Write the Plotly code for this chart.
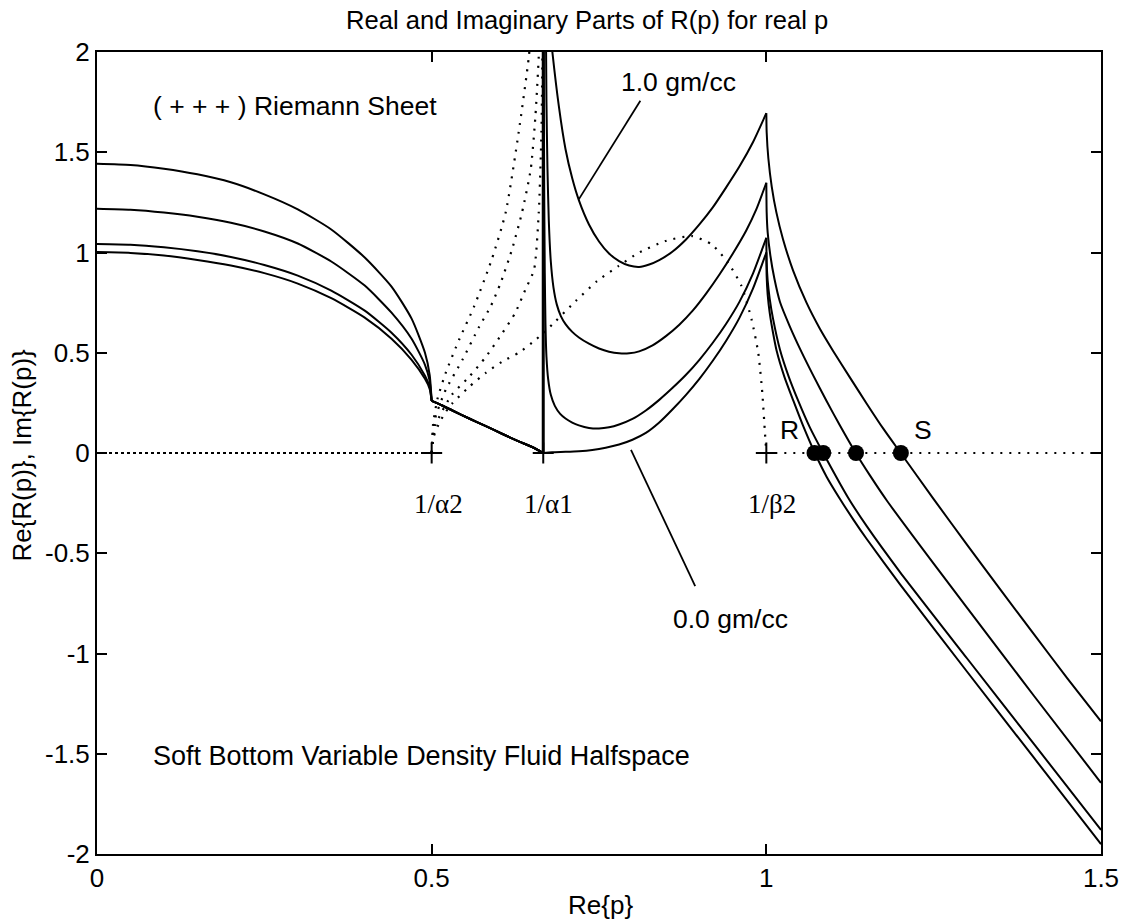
import plotly.graph_objects as go

# ---------------- values ----------------
# Real part of R(p) for four bottom densities (re1 = 1.0 gm/cc ... re4 = 0.0 gm/cc)
x_left = [0.0, 0.05, 0.1, 0.15, 0.2, 0.25, 0.3, 0.35, 0.4, 0.44, 0.47, 0.49, 0.497, 0.5]
re1_left = [1.443, 1.437, 1.418, 1.39, 1.35, 1.29, 1.215, 1.115, 0.975, 0.83, 0.67, 0.50, 0.39, 0.26]
re2_left = [1.218, 1.213, 1.199, 1.178, 1.148, 1.105, 1.045, 0.955, 0.835, 0.70, 0.57, 0.44, 0.36, 0.26]
re3_left = [1.043, 1.039, 1.026, 1.006, 0.978, 0.938, 0.885, 0.81, 0.71, 0.60, 0.49, 0.385, 0.33, 0.26]
re4_left = [1.002, 0.998, 0.985, 0.963, 0.935, 0.897, 0.845, 0.772, 0.675, 0.57, 0.465, 0.37, 0.32, 0.26]

# shared segment between 1/alpha2 and 1/alpha1
x_mid = [0.5, 0.515, 0.531, 0.556, 0.581, 0.605, 0.630, 0.650, 0.6667]
re_mid = [0.26, 0.238, 0.212, 0.172, 0.134, 0.096, 0.058, 0.03, 0.0]

# jump at 1/alpha1 (runs off the top of the frame)
x_jump = [0.6667, 0.6667]
re_jump = [0.0, 2.6]

# between 1/alpha1 and 1/beta2
re1_rx = [0.670, 0.675, 0.680, 0.690, 0.700, 0.710, 0.720, 0.735, 0.750, 0.765, 0.780, 0.795,
          0.810, 0.825, 0.840, 0.860, 0.880, 0.900, 0.920, 0.940, 0.960, 0.980, 1.0]
re1_ry = [2.40, 2.18, 2.01, 1.73, 1.515, 1.37, 1.26, 1.14, 1.055, 0.995, 0.957, 0.935,
          0.928, 0.94, 0.962, 1.005, 1.065, 1.14, 1.225, 1.325, 1.43, 1.55, 1.695]
re2_rx = [0.6705, 0.6715, 0.673, 0.675, 0.678, 0.682, 0.687, 0.693, 0.700, 0.710, 0.720, 0.735, 0.750,
          0.765, 0.780, 0.795, 0.810, 0.830, 0.850, 0.870, 0.890, 0.910, 0.930, 0.950, 0.970, 0.985, 1.0]
re2_ry = [2.20, 1.75, 1.42, 1.16, 0.955, 0.825, 0.74, 0.683, 0.643, 0.604, 0.576, 0.545, 0.521,
          0.505, 0.497, 0.497, 0.507, 0.537, 0.583, 0.64, 0.71, 0.795, 0.89, 0.995, 1.11, 1.215, 1.348]
re3_rx = [0.6672, 0.6675, 0.668, 0.669, 0.670, 0.6715, 0.674, 0.678, 0.684, 0.692, 0.700, 0.710, 0.720,
          0.735, 0.750, 0.765, 0.780, 0.800, 0.820, 0.840, 0.860, 0.880, 0.900, 0.920, 0.940, 0.960, 0.980, 1.0]
re3_ry = [2.5, 1.9, 1.4, 0.9, 0.65, 0.48, 0.37, 0.29, 0.235, 0.195, 0.172, 0.152, 0.138,
          0.125, 0.122, 0.128, 0.142, 0.17, 0.212, 0.265, 0.325, 0.39, 0.465, 0.55, 0.645, 0.755, 0.895, 1.073]
re4_rx = [0.6667, 0.680, 0.700, 0.720, 0.740, 0.760, 0.780, 0.800, 0.820, 0.840, 0.860, 0.880, 0.900,
          0.920, 0.940, 0.960, 0.980, 1.0]
re4_ry = [0.0, 0.004, 0.006, 0.009, 0.015, 0.026, 0.042, 0.066, 0.10, 0.152, 0.218, 0.29, 0.37,
          0.46, 0.56, 0.675, 0.82, 1.0]

# beyond 1/beta2
re1_tx = [1.0, 1.0005, 1.003, 1.008, 1.015, 1.025, 1.04, 1.06, 1.08, 1.10, 1.125, 1.15, 1.175, 1.2007,
          1.25, 1.30, 1.35, 1.40, 1.45, 1.5]
re1_ty = [1.695, 1.60, 1.47, 1.33, 1.20, 1.065, 0.91, 0.75, 0.62, 0.508, 0.376, 0.246, 0.12, 0.0,
          -0.23, -0.458, -0.683, -0.905, -1.125, -1.338]
re2_tx = [1.0, 1.0005, 1.002, 1.006, 1.012, 1.0204, 1.035, 1.0527, 1.07, 1.09, 1.11, 1.1336, 1.155, 1.18,
          1.25, 1.30, 1.40, 1.5]
re2_ty = [1.348, 1.20, 1.10, 0.985, 0.87, 0.753, 0.632, 0.503, 0.387, 0.259, 0.137, 0.0, -0.113, -0.237,
          -0.552, -0.772, -1.212, -1.645]
re3_tx = [1.0, 1.0005, 1.002, 1.005, 1.01, 1.0204, 1.033, 1.0477, 1.065, 1.085, 1.1222, 1.15, 1.2,
          1.3, 1.4, 1.5]
re3_ty = [1.073, 0.95, 0.86, 0.77, 0.67, 0.515, 0.385, 0.26, 0.128, 0.0, -0.223, -0.365, -0.595,
          -1.025, -1.452, -1.88]
re4_tx = [1.0, 1.0005, 1.002, 1.005, 1.01, 1.0154, 1.027, 1.0402, 1.055, 1.0725, 1.09, 1.1098, 1.13,
          1.15, 1.2, 1.3, 1.4, 1.5]
re4_ty = [1.0, 0.88, 0.79, 0.70, 0.60, 0.51, 0.38, 0.262, 0.135, 0.0, -0.118, -0.228, -0.332,
          -0.429, -0.656, -1.091, -1.521, -1.951]

# Imaginary parts (dotted)
im_flat_x = [0.0, 0.5]          # all four curves coincide on the axis here
im_flat_y = [0.0, 0.0]
im0_x = [0.5, 0.503, 0.51, 0.52, 0.531, 0.556, 0.581, 0.605, 0.63, 0.65, 0.6667, 0.685, 0.715,
         0.747, 0.779, 0.809, 0.849, 0.889, 0.9185, 0.943, 0.963, 0.978, 0.988, 0.994, 0.998, 1.0]
im0_y = [0.0, 0.08, 0.14, 0.2, 0.248, 0.33, 0.40, 0.455, 0.50, 0.55, 0.598, 0.657, 0.757,
         0.857, 0.932, 0.998, 1.057, 1.082, 1.04, 0.948, 0.832, 0.665, 0.498, 0.298, 0.098, 0.0]
im0_tail_x = [1.0, 1.5]
im0_tail_y = [0.0, 0.0]
im1_x = [0.5, 0.502, 0.5087, 0.521, 0.541, 0.5633, 0.5897, 0.6106, 0.63, 0.6453, 0.65]
im1_y = [0.0, 0.14, 0.27, 0.40, 0.565, 0.73, 0.965, 1.2, 1.6, 1.98, 2.2]
im2_x = [0.5, 0.505, 0.521, 0.546, 0.571, 0.588, 0.603, 0.620, 0.635, 0.648, 0.655, 0.660, 0.662]
im2_y = [0.0, 0.17, 0.315, 0.465, 0.63, 0.73, 0.848, 1.015, 1.2, 1.415, 1.68, 1.98, 2.2]
im3_x = [0.5, 0.506, 0.53, 0.556, 0.581, 0.6056, 0.625, 0.64, 0.653, 0.66, 0.664, 0.6655, 0.666]
im3_y = [0.0, 0.14, 0.29, 0.38, 0.48, 0.598, 0.70, 0.815, 0.915, 1.2, 1.6, 2.0, 2.3]

# branch points (+) and zeros (R, S)
branch_x = [0.5, 0.6667, 1.0]
branch_y = [0.0, 0.0, 0.0]
branch_labels = ["1/\u03b12", "1/\u03b11", "1/\u03b22"]
pole_x = [1.072, 1.085, 1.134, 1.201]
pole_y = [0.0, 0.0, 0.0, 0.0]

x_ticks = [0, 0.5, 1, 1.5]
x_ticktext = ["0", "0.5", "1", "1.5"]
y_ticks = [-2, -1.5, -1, -0.5, 0, 0.5, 1, 1.5, 2]
y_ticktext = ["-2", "-1.5", "-1", "-0.5", "0", "0.5", "1", "1.5", "2"]

# ---------------- figure ----------------
SANS = "Liberation Sans, Arial, Helvetica, sans-serif"
SERIF = "Liberation Serif, Times New Roman, serif"
DOT = "2px,7px"


def join(*segs):
    xs, ys = [], []
    for i, (sx, sy) in enumerate(segs):
        if i:
            xs.append(None)
            ys.append(None)
        xs += list(sx)
        ys += list(sy)
    return xs, ys


fig = go.Figure()

real_curves = [
    ("1.0 gm/cc", re1_left, re1_rx, re1_ry, re1_tx, re1_ty),
    ("curve 2", re2_left, re2_rx, re2_ry, re2_tx, re2_ty),
    ("curve 3", re3_left, re3_rx, re3_ry, re3_tx, re3_ty),
    ("0.0 gm/cc", re4_left, re4_rx, re4_ry, re4_tx, re4_ty),
]
for name, yl, rx, ry, tx, ty in real_curves:
    xs, ys = join((x_left, yl), (x_mid, re_mid), (rx, ry), (tx, ty))
    fig.add_trace(go.Scatter(x=xs, y=ys, mode="lines", name=name,
                             line=dict(color="black", width=2, shape="spline", smoothing=0.6),
                             connectgaps=False, showlegend=False, hoverinfo="skip"))

fig.add_trace(go.Scatter(x=x_jump, y=re_jump, mode="lines",
                         line=dict(color="black", width=3), showlegend=False, hoverinfo="skip"))

fig.add_trace(go.Scatter(x=im_flat_x, y=im_flat_y, mode="lines",
                         line=dict(color="black", width=2, dash="3px,3px"),
                         showlegend=False, hoverinfo="skip"))
for xs, ys in [join((im0_x, im0_y), (im0_tail_x, im0_tail_y)),
               (im1_x, im1_y), (im2_x, im2_y), (im3_x, im3_y)]:
    fig.add_trace(go.Scatter(x=xs, y=ys, mode="lines",
                             line=dict(color="black", width=2.2, dash=DOT, shape="spline", smoothing=0.6),
                             connectgaps=False, showlegend=False, hoverinfo="skip"))

fig.add_trace(go.Scatter(x=branch_x, y=branch_y, mode="markers",
                         marker=dict(symbol="cross-thin", size=15, line=dict(color="black", width=2)),
                         showlegend=False, hoverinfo="skip"))
fig.add_trace(go.Scatter(x=pole_x, y=pole_y, mode="markers",
                         marker=dict(symbol="circle", size=16, color="black"),
                         showlegend=False, hoverinfo="skip"))

axis_common = dict(showline=True, linecolor="black", linewidth=2, mirror="ticks",
                   ticks="inside", ticklen=10, tickwidth=2, tickcolor="black",
                   showgrid=False, zeroline=False,
                   tickfont=dict(family=SANS, size=26, color="black"))
fig.update_xaxes(range=[0, 1.5], tickvals=x_ticks, ticktext=x_ticktext, **axis_common)
fig.update_yaxes(range=[-2, 2], tickvals=y_ticks, ticktext=y_ticktext, **axis_common)

# pointer lines for the density labels
fig.add_shape(type="line", xref="x", yref="y", x0=0.8118, y0=1.7565, x1=0.7198, y1=1.265,
              line=dict(color="black", width=1.8))
fig.add_shape(type="line", xref="x", yref="y", x0=0.7978, y0=0.015, x1=0.8937, y1=-0.6635,
              line=dict(color="black", width=1.8))

ann = []


def txt(text, x, y, xref="x", yref="y", size=26.5, family=SANS, xanchor="center", yanchor="middle", angle=0):
    ann.append(dict(text=text, x=x, y=y, xref=xref, yref=yref, showarrow=False,
                    xanchor=xanchor, yanchor=yanchor, textangle=angle,
                    font=dict(family=family, size=size, color="black")))


txt("Real and Imaginary Parts of R(p) for real p", 0.488, 1.04, "paper", "paper", size=25.6)
txt("Re{p}", 0.501, -0.0635, "paper", "paper", size=26)
txt("Re{R(p)}, Im{R(p)}", -0.0745, 0.497, "paper", "paper", size=26, angle=-90)
txt("( + + + ) Riemann Sheet", 0.081, 1.73, xanchor="left")
txt("Soft Bottom Variable Density Fluid Halfspace", 0.081, -1.51, xanchor="left", size=27)
txt("1.0 gm/cc", 0.869, 1.849)
txt("0.0 gm/cc", 0.947, -0.826)
txt("R", 1.035, 0.115)
txt("S", 1.234, 0.115)
for bx, lab, off in zip(branch_x, branch_labels, [0.0105, 0.0085, 0.0085]):
    txt(lab, bx + off, -0.252, size=27, family=SERIF)

fig.update_layout(width=1131, height=922, margin=dict(l=97, r=27, t=52, b=68),
                  paper_bgcolor="white", plot_bgcolor="white", annotations=ann,
                  showlegend=False)

fig.write_html("out.html")
